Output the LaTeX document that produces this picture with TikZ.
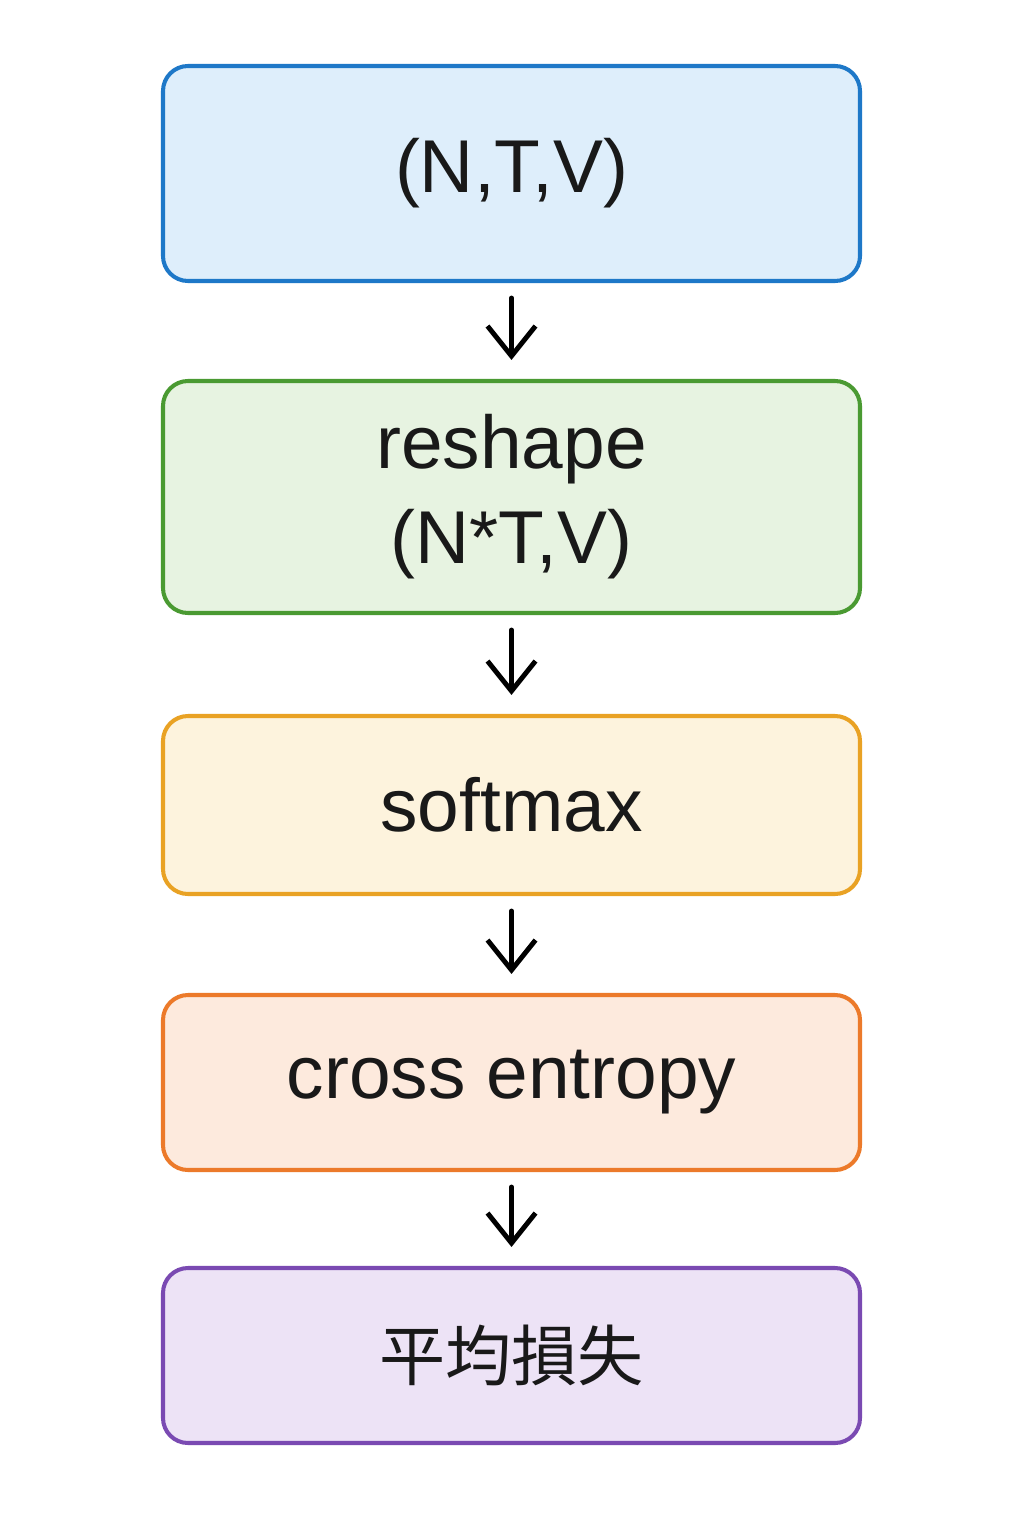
\documentclass[tikz,border=0pt]{standalone}
\usepackage{fontspec}
\setmainfont{Liberation Sans}
\newfontfamily\cjk{Noto Sans CJK TC}
\usetikzlibrary{arrows.meta}
\definecolor{blauwrand}{HTML}{1E78C8}
\definecolor{blauwvul}{HTML}{DEEEFB}
\definecolor{groenrand}{HTML}{4A9A32}
\definecolor{groenvul}{HTML}{E7F3E1}
\definecolor{geelrand}{HTML}{E9A224}
\definecolor{geelvul}{HTML}{FDF3DD}
\definecolor{oranjerand}{HTML}{EC7A2A}
\definecolor{oranjevul}{HTML}{FDEADD}
\definecolor{paarsrand}{HTML}{7A4AB2}
\definecolor{paarsvul}{HTML}{EDE3F6}
\tikzset{
  stap/.style={draw, rounded corners=0.25cm, line width=1.15pt, minimum width=6.97cm,
    align=center, text=black!90, font=\fontsize{21.3}{27}\selectfont},
  pijl/.style={-{Straight Barb[length=3mm,width=4.8mm]}, line width=1.4pt, line cap=round,
    shorten <=0.15cm, shorten >=0.19cm}
}

\begin{document}
\begin{tikzpicture}

\useasboundingbox[fill=white] (0,0) rectangle (10.24,-15.36);

\node[stap, draw=blauwrand, fill=blauwvul, minimum height=2.15cm] (invoer) at (5.115,-1.735) {(N,T,V)};
\node[stap, draw=groenrand, fill=groenvul, minimum height=2.32cm] (reshape) at (5.115,-4.97) {reshape\\(N*T,V)};
\node[stap, draw=geelrand, fill=geelvul, minimum height=1.78cm] (softmax) at (5.115,-8.05) {softmax};
\node[stap, draw=oranjerand, fill=oranjevul, minimum height=1.75cm] (ce) at (5.115,-10.825) {cross entropy};
\node[stap, draw=paarsrand, fill=paarsvul, minimum height=1.75cm, font=\cjk\fontsize{18.8}{22}\selectfont] (verlies) at (5.115,-13.555) {平均損失};

\draw[pijl] (invoer) -- (reshape);
\draw[pijl] (reshape) -- (softmax);
\draw[pijl] (softmax) -- (ce);
\draw[pijl] (ce) -- (verlies);

\end{tikzpicture}
\end{document}
